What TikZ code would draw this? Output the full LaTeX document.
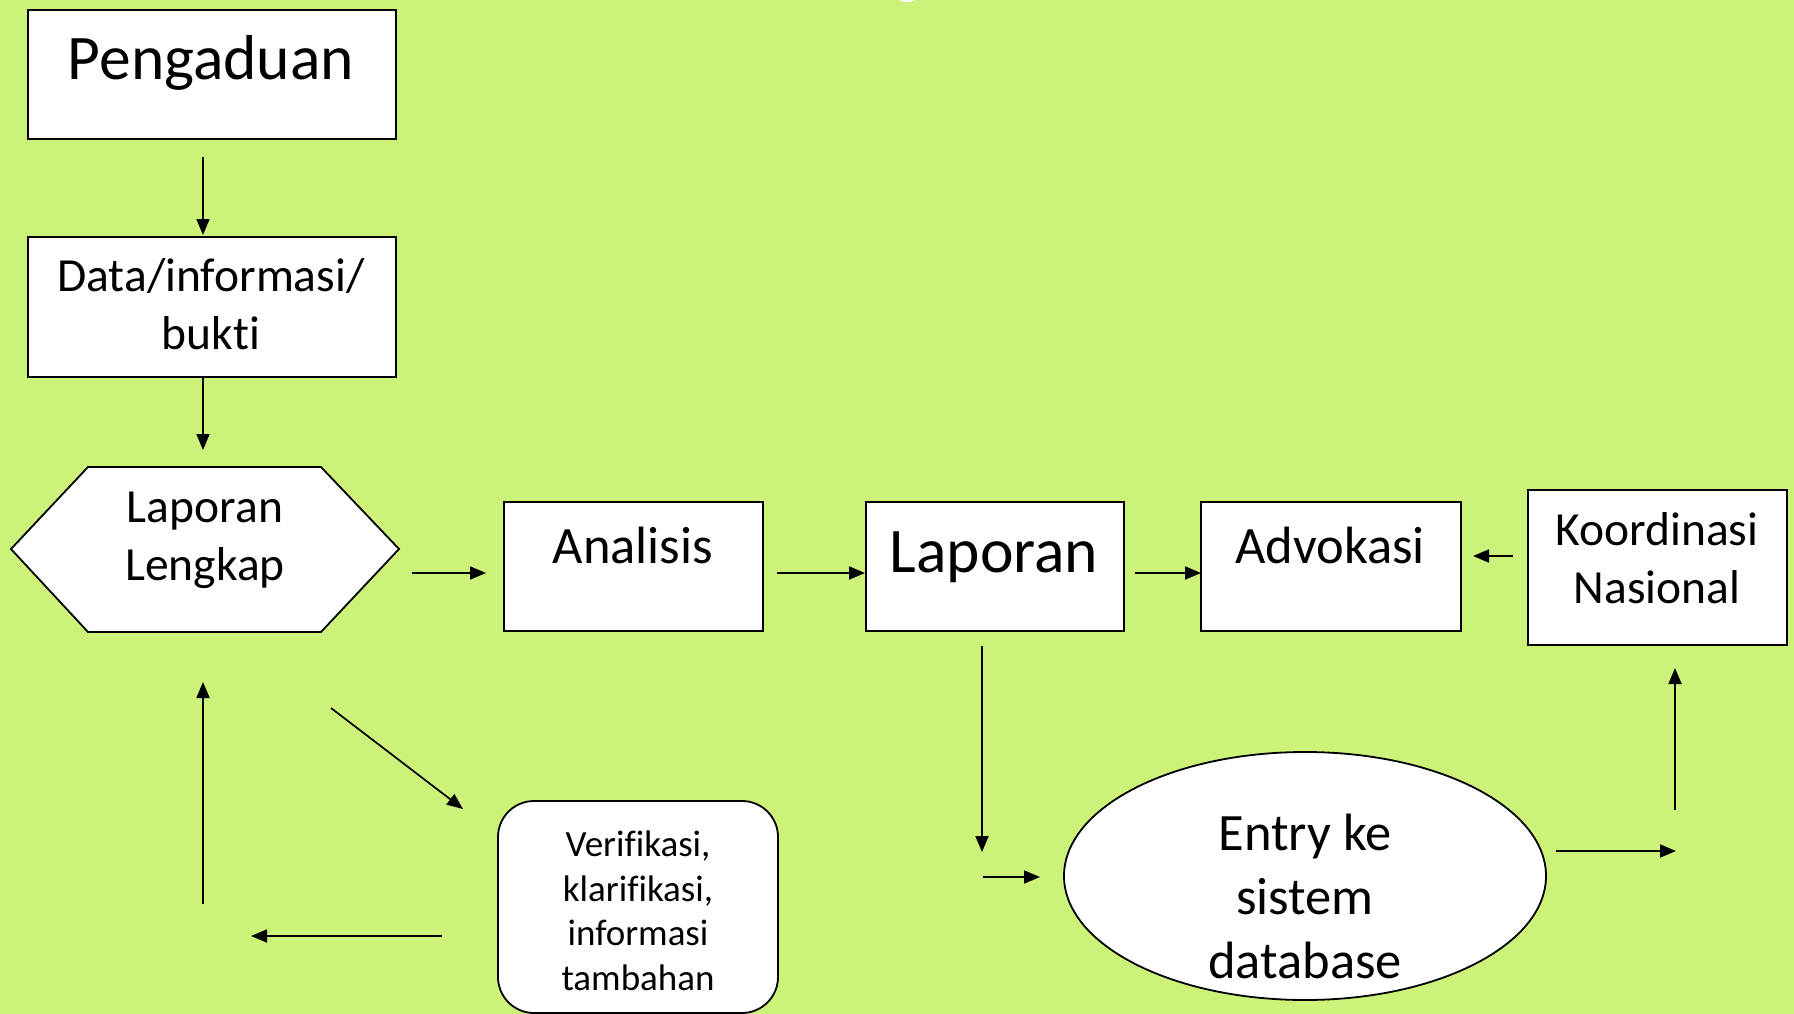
\documentclass[tikz,border=0pt]{standalone}
\usepackage{fontspec}
\setmainfont{Carlito}[Ligatures=NoCommon]
\usetikzlibrary{arrows.meta}
\definecolor{bg}{RGB}{204,242,122}
\begin{document}
\begin{tikzpicture}[x=1pt,y=-1pt,
  box/.style={draw=black, fill=white, line width=1.8pt, inner sep=0pt, anchor=north west},
  arr/.style={line width=1.7pt, -{Triangle[length=16pt,width=13pt]}},
  lbl/.style={align=center, inner sep=0pt, anchor=base},
  big/.style={font=\fontsize{63.5}{76}\selectfont},
  mid/.style={font=\fontsize{52.5}{64}\selectfont},
  med/.style={font=\fontsize{47.5}{57.5}\selectfont},
  sml/.style={font=\fontsize{37}{44.5}\selectfont}]
\fill[bg] (0,0) rectangle (1794,1014);
\useasboundingbox (0,0) rectangle (1794,1014);
\begin{scope}
\clip (0,0) rectangle (1794,1014);
\fill[white] (907,-12) ellipse [x radius=15pt, y radius=14pt];
% boxes
\node[box, minimum width=368pt, minimum height=129pt] (peng) at (27,9) {};
\node[lbl, big] (pengT) at (211,80) {Pengaduan};
\node[box, minimum width=368pt, minimum height=140pt] (data) at (27,236) {};
\node[lbl, med] (dataT) at (211,349) {Data/informasi/\\bukti};
\draw[fill=white, line width=1.8pt] (11,549) -- (88,467) -- (321,467) -- (399,549) -- (321,632) -- (88,632) -- cycle;
\coordinate (hex) at (205,549);
\node[lbl, med] (hexT) at (205,580) {Laporan\\Lengkap};
\node[box, minimum width=259pt, minimum height=129pt] (anal) at (503,501) {};
\node[lbl, mid] (analT) at (633,563) {Analisis};
\node[box, minimum width=258pt, minimum height=129pt] (lap) at (865,501) {};
\node[lbl, big] (lapT) at (994,572) {Laporan};
\node[box, minimum width=260pt, minimum height=129pt] (adv) at (1200,501) {};
\node[lbl, mid] (advT) at (1330,563) {Advokasi};
\node[box, minimum width=259pt, minimum height=155pt] (koor) at (1527,489) {};
\node[lbl, med] (koorT) at (1657,603) {Koordinasi\\Nasional};
\draw[fill=white, line width=1.8pt] (1305,876) ellipse [x radius=241pt, y radius=124pt];
\coordinate (ent) at (1305,876);
\node[lbl, mid] (entT) at (1305,978) {Entry ke\\sistem\\database};
\draw[fill=white, line width=1.8pt, rounded corners=36pt] (498,801) rectangle (778,1013);
\coordinate (ver) at (638,900);
\node[lbl, sml] (verT) at (638,990) {Verifikasi,\\klarifikasi,\\informasi\\tambahan};
% arrow end points
\coordinate (a1s) at (203,157); \coordinate (a1e) at (203,235);
\coordinate (a2s) at (203,377); \coordinate (a2e) at (203,450);
\coordinate (a3s) at (412,573); \coordinate (a3e) at (486,573);
\coordinate (a4s) at (777,573); \coordinate (a4e) at (865,573);
\coordinate (a5s) at (1135,573); \coordinate (a5e) at (1201,573);
\coordinate (a6s) at (1513,556); \coordinate (a6e) at (1473,556);
\coordinate (a7s) at (982,646); \coordinate (a7e) at (982,852);
\coordinate (a8s) at (983,877); \coordinate (a8e) at (1040,877);
\coordinate (a9s) at (1556,851); \coordinate (a9e) at (1676,851);
\coordinate (a10s) at (1675,810); \coordinate (a10e) at (1675,668);
\coordinate (a11s) at (331,708); \coordinate (a11e) at (463,809);
\coordinate (a12s) at (442,936); \coordinate (a12e) at (251,936);
\coordinate (a13s) at (203,904); \coordinate (a13e) at (203,682);
\foreach \i in {1,...,13}{\draw[arr] (a\i s) -- (a\i e);}
\end{scope}
\end{tikzpicture}
\end{document}
